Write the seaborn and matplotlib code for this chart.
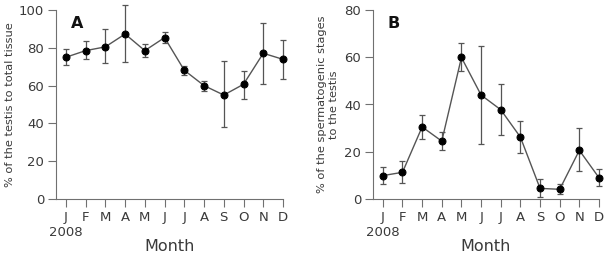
import numpy as np
import pandas as pd
import matplotlib
matplotlib.use("Agg")
import matplotlib.pyplot as plt
import seaborn as sns

months = ["J", "F", "M", "A", "M", "J", "J", "A", "S", "O", "N", "D"]

# panel A: % of the testis to total tissue
testis_mean = [75.0, 78.5, 80.5, 87.3, 78.5, 85.4, 68.1, 60.0, 55.0, 60.7, 77.1, 73.9]
testis_low = [70.7, 73.9, 72.0, 72.5, 75.1, 82.4, 65.6, 57.3, 37.9, 53.1, 60.8, 63.7]
testis_high = [79.2, 83.6, 90.0, 102.8, 82.0, 88.4, 70.5, 62.6, 72.8, 67.9, 93.1, 84.3]

# panel B: % of the spermatogenic stages to the testis
sperm_mean = [9.9, 11.3, 30.5, 24.5, 59.9, 44.0, 37.8, 26.2, 4.5, 4.1, 20.6, 9.0]
sperm_low = [6.5, 6.8, 25.4, 20.7, 54.2, 23.3, 27.2, 19.5, 0.7, 2.1, 11.7, 5.6]
sperm_high = [13.4, 16.1, 35.7, 28.5, 65.9, 64.9, 48.8, 33.1, 8.5, 6.2, 29.9, 12.8]

sns.set_style("ticks")
plt.rcParams["font.family"] = ["DejaVu Sans"]
txt = "#3a3a3a"
gray = "#707070"

fig = plt.figure(figsize=(6.06, 2.54), dpi=100)
axA = fig.add_axes([56 / 606, 55 / 254, 227 / 606, 189 / 254])
axB = fig.add_axes([373 / 606, 55 / 254, 226 / 606, 189 / 254])


def draw(ax, mean, low, high, ymax, step, ylabel, letter, ylab_x):
    df = pd.DataFrame({"pos": np.arange(len(months)), "val": mean})
    yerr = [np.array(mean) - np.array(low), np.array(high) - np.array(mean)]
    eb = ax.errorbar(df["pos"], df["val"], yerr=yerr, fmt="none", ecolor="#555555",
                     elinewidth=0.9, capsize=2, capthick=0.9, zorder=2)
    for art in eb.lines[1] + eb.lines[2]:
        art.set_clip_on(False)
    sns.lineplot(data=df, x="pos", y="val", ax=ax, color="#555555", linewidth=1.0,
                 marker="o", markersize=5, markerfacecolor="black",
                 markeredgecolor="black", zorder=3, clip_on=False)
    ax.set_xlim(-0.5, 11)
    ax.set_ylim(0, ymax)
    ax.set_yticks(np.arange(0, ymax + 1, step))
    ax.set_xticks(df["pos"])
    ax.set_xticklabels(months)
    ax.tick_params(axis="both", colors=gray, labelcolor=txt, labelsize=9.5,
                   length=5.5, width=0.8, pad=3)
    for s in ["top", "right"]:
        ax.spines[s].set_visible(False)
    for s in ["left", "bottom"]:
        ax.spines[s].set_color(gray)
        ax.spines[s].set_linewidth(0.8)
    ax.set_xlabel("Month", fontsize=11.5, color=txt)
    ax.xaxis.label.set_va("center")
    ax.xaxis.set_label_coords(0.5, -0.249)
    ax.set_ylabel(ylabel, fontsize=8.2, color=txt, linespacing=1.3)
    ax.yaxis.label.set_va("center")
    ax.yaxis.set_label_coords(ylab_x, 0.5)
    ax.text(0.065, 0.93, letter, transform=ax.transAxes, fontsize=11.5,
            fontweight="bold", color="#111111", ha="left", va="center")
    ax.text(0, -0.175, "2008", transform=ax.get_xaxis_transform(),
            fontsize=9.5, color=txt, ha="center", va="center")


draw(axA, testis_mean, testis_low, testis_high, 100, 20,
     "% of the testis to total tissue", "A", -0.203)
draw(axB, sperm_mean, sperm_low, sperm_high, 80, 20,
     "% of the spermatogenic stages\nto the testis", "B", -0.199)

fig.savefig("out.png", dpi=100)
